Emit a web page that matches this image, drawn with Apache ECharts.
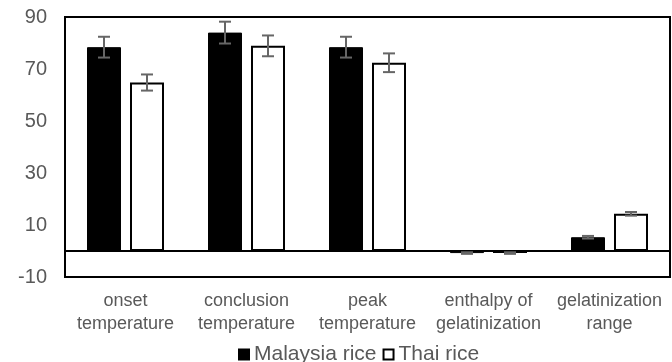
<!DOCTYPE html>
<html>
<head>
<meta charset="utf-8">
<script src="https://cdn.jsdelivr.net/npm/echarts@6/dist/echarts.min.js"></script>
<style>
  html, body { margin: 0; padding: 0; background: #fff; }
  #chart { width: 672px; height: 362px; }
</style>
</head>
<body>
<div id="chart"></div>
<script>
// categories and values
var categories = ['onset\ntemperature', 'conclusion\ntemperature', 'peak\ntemperature', 'enthalpy of\ngelatinization', 'gelatinization\nrange'];
var malaysia = [78.4, 84.0, 78.4, -0.8, 5.3];
var malaysiaErr = [4.0, 4.2, 4.0, 0.3, 0.5];
var thai = [64.8, 78.9, 72.4, -0.8, 14.3];
var thaiErr = [3.1, 4.0, 3.6, 0.3, 0.7];
var yTicks = { min: -10, max: 90, interval: 20 };

var BAR_W = 34, BAR_GAP = 9;
var textGrey = '#595959';

// error bars drawn through the category / value axes
function errorSeries(name, vals, errs, side) {
  return {
    type: 'custom',
    name: name + ' err',
    z: 5,
    silent: true,
    data: vals.map(function (v, i) { return [i, v - errs[i], v + errs[i]]; }),
    renderItem: function (params, api) {
      var lo = api.coord([api.value(0), api.value(1)]);
      var hi = api.coord([api.value(0), api.value(2)]);
      var x = lo[0] + side * (BAR_W + BAR_GAP) / 2;
      var cap = 6;
      var st = { stroke: '#666', lineWidth: 2 };
      return {
        type: 'group',
        children: [
          { type: 'line', shape: { x1: x, y1: lo[1], x2: x, y2: hi[1] }, style: st },
          { type: 'line', shape: { x1: x - cap, y1: lo[1], x2: x + cap, y2: lo[1] }, style: st },
          { type: 'line', shape: { x1: x - cap, y1: hi[1], x2: x + cap, y2: hi[1] }, style: st }
        ]
      };
    }
  };
}

var chart = echarts.init(document.getElementById('chart'));
chart.setOption({
  animation: false,
  textStyle: { fontFamily: 'Liberation Sans, Arial, sans-serif' },
  grid: {
    left: 65, right: 2, top: 17, bottom: 85,
    show: true, borderColor: '#000', borderWidth: 2, backgroundColor: 'transparent'
  },
  legend: {
    left: 233, top: 339,
    icon: 'rect', itemWidth: 10, itemHeight: 10, itemGap: 6,
    data: ['Malaysia rice', 'Thai rice'],
    textStyle: { fontSize: 21, color: textGrey }
  },
  xAxis: {
    type: 'category',
    data: categories,
    axisLine: { onZero: true, lineStyle: { color: '#000', width: 2 } },
    axisTick: { show: false },
    axisLabel: { color: textGrey, fontSize: 18, margin: 13, lineHeight: 23, interval: 0 }
  },
  yAxis: {
    type: 'value',
    min: yTicks.min, max: yTicks.max, interval: yTicks.interval,
    axisLine: { show: false },
    axisTick: { show: false },
    splitLine: { show: false },
    axisLabel: { color: textGrey, fontSize: 20, margin: 18, padding: [4, 0, 0, 0] }
  },
  series: [
    {
      name: 'Malaysia rice', type: 'bar', data: malaysia,
      barWidth: BAR_W, barGap: (BAR_GAP / BAR_W * 100) + '%',
      itemStyle: { color: '#000', borderColor: '#000', borderWidth: 1 }
    },
    {
      name: 'Thai rice', type: 'bar', data: thai,
      barWidth: BAR_W,
      itemStyle: { color: '#fff', borderColor: '#000', borderWidth: 2 }
    },
    errorSeries('Malaysia rice', malaysia, malaysiaErr, -1),
    errorSeries('Thai rice', thai, thaiErr, 1)
  ]
});
</script>
</body>
</html>
